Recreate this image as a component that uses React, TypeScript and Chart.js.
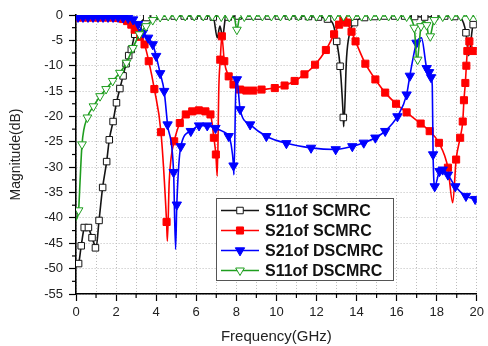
import React, { useEffect, useRef } from 'react';
import { Chart, registerables } from 'chart.js';

Chart.register(...registerables);

type Pt = [number, number];

// ---------- labels ----------
const seriesNames = ['S11of SCMRC', 'S21of SCMRC', 'S21of DSCMRC', 'S11of DSCMRC'];
const xTickLabels = [0, 2, 4, 6, 8, 10, 12, 14, 16, 18, 20];
const yTickLabels = [0, -5, -10, -15, -20, -25, -30, -35, -40, -45, -50, -55];
const xTitle = 'Frequency(GHz)';
const yTitle = 'Magnitude(dB)';

// ---------- S11 of SCMRC (black, hollow squares) ----------
const s11ScmrcMarks: Pt[] = [
  [0.13, -49.0], [0.26, -45.5], [0.41, -41.9], [0.62, -41.9], [0.8, -43.9], [0.97, -45.9],
  [1.15, -40.5], [1.33, -34.0], [1.53, -28.9], [1.66, -24.6], [1.85, -21.0], [2.02, -17.3],
  [2.19, -14.5], [2.35, -12.0], [2.5, -9.6], [2.63, -8.0], [2.76, -6.8], [2.93, -3.8],
  [3.1, -2.2], [3.53, -0.5], [3.9, -0.3], [4.4, -0.2], [4.9, -0.2], [5.4, -0.2], [5.9, -0.2],
  [6.4, -0.2], [6.85, -0.4], [7.6, -0.4], [8.1, -0.2], [8.6, -0.2], [9.1, -0.2], [9.6, -0.2],
  [10.1, -0.2], [10.6, -0.2], [11.1, -0.2], [11.6, -0.3], [12.1, -0.4], [12.55, -0.8],
  [13.01, -5.2], [13.18, -10.1], [13.34, -20.2], [13.9, -1.5], [14.4, -0.5], [14.9, -0.3],
  [15.4, -0.2], [15.9, -0.2], [16.4, -0.2], [16.9, -0.3], [17.4, -0.4], [17.9, -0.3],
  [18.4, -0.2], [18.9, -0.3], [19.46, -3.5], [19.82, -1.9],
];
const s11ScmrcCurve: Pt[] = [
  [0, -49.5], [0.5, -41.4], [0.99, -46.2], [7.05, -4.5], [7.18, -2.2], [7.32, -4.3],
  [7.45, -0.8], [12.85, -2.0], [13.36, -22.0], [13.5, -8.5], [13.66, -3.5], [19.2, -0.6],
  [19.6, -8.0], [20, -1.5],
];

// ---------- S21 of SCMRC (red, filled squares) ----------
const s21ScmrcMarks: Pt[] = [
  [0.1, -0.5], [0.35, -0.5], [0.6, -0.5], [0.85, -0.5], [1.1, -0.5], [1.35, -0.5], [1.6, -0.5],
  [1.85, -0.5], [2.1, -0.6], [2.35, -0.8], [2.55, -1.2], [2.76, -1.9], [2.93, -2.9], [3.2, -4.3],
  [3.42, -5.8], [3.63, -9.1], [3.91, -14.6], [4.24, -23.1], [4.52, -40.8], [4.9, -24.9],
  [5.18, -21.3], [5.48, -19.6], [5.8, -19.0], [6.13, -18.8], [6.46, -19.0], [6.71, -19.6],
  [6.88, -24.2], [6.98, -27.5], [7.2, -8.8], [7.28, -4.2], [7.4, -9.1], [7.62, -12.1],
  [7.86, -13.7], [8.19, -14.7], [8.5, -14.9], [8.85, -14.9], [9.26, -14.7], [9.92, -14.4],
  [10.41, -13.9], [10.91, -13.0], [11.4, -11.7], [11.93, -9.8], [12.47, -6.9], [12.88, -3.8],
  [13.13, -1.9], [13.34, -1.0], [13.52, -1.5], [13.75, -3.3], [13.95, -5.2], [14.44, -9.6],
  [14.94, -12.7], [15.43, -15.3], [15.97, -17.5], [16.5, -19.2], [17.2, -21.4], [17.65, -22.9],
  [18.11, -25.2], [18.56, -30.1], [18.97, -28.5], [19.17, -24.2], [19.3, -21.0], [19.36, -16.8],
  [19.43, -13.4], [19.48, -10.0], [19.53, -7.1], [19.63, -5.2], [19.87, -7.1],
];
const s21ScmrcCurve: Pt[] = [
  [0, -0.5], [4.56, -44.6], [4.65, -33.0], [4.75, -28.0], [7.05, -31.8], [7.13, -14.0],
  [18.8, -37.0], [20, -6.5],
];

// ---------- S21 of DSCMRC (blue, filled down triangles) ----------
const s21DscmrcMarks: Pt[] = [
  [0.1, -0.4], [0.35, -0.4], [0.6, -0.4], [0.85, -0.4], [1.1, -0.4], [1.35, -0.4], [1.6, -0.4],
  [1.85, -0.4], [2.1, -0.4], [2.35, -0.5], [2.6, -0.6], [2.85, -0.9], [3.1, -1.8], [3.34, -3.5],
  [3.6, -4.5], [3.83, -5.8], [4.0, -8.1], [4.2, -11.5], [4.4, -15.0], [4.57, -21.6],
  [4.87, -31.0], [5.03, -37.4], [5.23, -25.9], [5.73, -22.9], [6.14, -21.8], [6.55, -21.8],
  [6.96, -22.3], [7.62, -23.9], [7.86, -29.7], [8.03, -12.7], [8.19, -18.6], [8.69, -21.6],
  [9.5, -23.9], [10.5, -25.3], [11.73, -26.2], [12.96, -26.5], [13.79, -25.9], [14.36, -25.2],
  [14.94, -24.2], [15.43, -22.9], [16.04, -20.0], [16.5, -15.7], [16.66, -12.0], [16.99, -5.5],
  [17.5, -10.5], [17.62, -11.3], [17.72, -12.3], [17.82, -27.5], [17.9, -33.8], [18.14, -30.8],
  [18.3, -30.5], [18.56, -31.5], [18.93, -33.8], [19.46, -35.7], [19.92, -36.3],
];
const s21DscmrcCurve: Pt[] = [
  [0, -0.4], [4.97, -46.2], [7.3, -22.9], [7.74, -25.5], [7.88, -31.5], [7.98, -14.0],
  [17.24, -4.5], [17.78, -14.0], [20, -36.4],
];

// ---------- S11 of DSCMRC (green, hollow down triangles) ----------
const s11DscmrcMarks: Pt[] = [
  [0.13, -38.5], [0.3, -25.5], [0.57, -20.2], [0.87, -18.0], [1.2, -16.0], [1.5, -14.6],
  [1.83, -13.0], [2.19, -11.4], [2.52, -9.4], [2.84, -6.5], [3.17, -3.8], [3.5, -2.2],
  [3.83, -1.0], [4.2, -0.4], [4.6, -0.2], [5.0, -0.2], [5.45, -0.2], [5.9, -0.2], [6.35, -0.2],
  [6.8, -0.2], [7.25, -0.3], [7.65, -0.4], [8.03, -2.9], [8.4, -0.3], [8.85, -0.2], [9.3, -0.2],
  [9.75, -0.2], [10.2, -0.2], [10.65, -0.2], [11.1, -0.2], [11.55, -0.2], [12.0, -0.2],
  [12.45, -0.2], [12.9, -0.2], [13.35, -0.2], [13.8, -0.2], [14.25, -0.2], [14.7, -0.2],
  [15.15, -0.2], [15.6, -0.2], [16.05, -0.2], [16.5, -0.3], [16.88, -2.5], [17.05, -8.8],
  [17.22, -2.2], [17.5, -2.0], [17.68, -4.2], [17.88, -1.0], [18.3, -0.3], [18.75, -0.2],
  [19.2, -0.2], [19.65, -0.2], [20, -0.2],
];
const s11DscmrcCurve: Pt[] = [
  [0, -40.5], [0.2, -33.0], [7.9, -0.6], [8.16, -0.6], [17.02, -9.5], [17.36, -1.3],
  [17.63, -4.6],
];

// ---------- styling ----------
type Style = { color: string; shape: 'rect' | 'triangle'; fill: string; radius: number };
const seriesStyles: Style[] = [
  { color: '#141414', shape: 'rect', fill: '#ffffff', radius: 4.6 },
  { color: '#ff0000', shape: 'rect', fill: '#ff0000', radius: 5 },
  { color: '#0000ff', shape: 'triangle', fill: '#0000ff', radius: 5.4 },
  { color: '#1f9e1f', shape: 'triangle', fill: '#ffffff', radius: 5 },
];

const FONT = '"Liberation Sans", Arial, Helvetica, sans-serif';

function buildCurve(marks: Pt[], extra: Pt[]) {
  const all = [...marks, ...extra].sort((a, b) => a[0] - b[0]);
  const out: { x: number; y: number }[] = [];
  for (const p of all) {
    if (!out.length || p[0] > out[out.length - 1].x) out.push({ x: p[0], y: p[1] });
  }
  return out;
}
const toXY = (pts: Pt[]) => pts.map(([x, y]) => ({ x, y }));

function drawMarker(ctx: CanvasRenderingContext2D, s: Style, x: number, y: number) {
  ctx.beginPath();
  if (s.shape === 'rect') {
    const h = s.radius * Math.SQRT1_2;
    ctx.rect(x - h, y - h, 2 * h, 2 * h);
  } else {
    const r = s.radius;
    ctx.moveTo(x, y + r);
    ctx.lineTo(x - r * 0.866, y - r / 2);
    ctx.lineTo(x + r * 0.866, y - r / 2);
    ctx.closePath();
  }
  ctx.fillStyle = s.fill;
  ctx.fill();
  ctx.strokeStyle = s.color;
  ctx.lineWidth = 1;
  ctx.stroke();
}

const minorTicksPlugin = {
  id: 'minorTicks',
  afterDraw(chart: any) {
    const { ctx, scales } = chart;
    const x = scales.x;
    const y = scales.y;
    ctx.save();
    ctx.strokeStyle = '#000';
    ctx.lineWidth = 1.2;
    for (let i = 0; i < xTickLabels.length - 1; i++) {
      const v = (xTickLabels[i] + xTickLabels[i + 1]) / 2;
      const px = x.getPixelForValue(v);
      ctx.beginPath();
      ctx.moveTo(px, x.top);
      ctx.lineTo(px, x.top + 4);
      ctx.stroke();
    }
    for (let i = 0; i < yTickLabels.length - 1; i++) {
      const v = (yTickLabels[i] + yTickLabels[i + 1]) / 2;
      const py = y.getPixelForValue(v);
      ctx.beginPath();
      ctx.moveTo(y.right, py);
      ctx.lineTo(y.right - 4, py);
      ctx.stroke();
    }
    ctx.restore();
  },
};

const boxLegendPlugin = {
  id: 'boxLegend',
  afterDraw(chart: any) {
    const ctx: CanvasRenderingContext2D = chart.ctx;
    const left = 216;
    const top = 198;
    const w = 177;
    const h = 82;
    ctx.save();
    ctx.fillStyle = '#ffffff';
    ctx.fillRect(left, top, w, h);
    ctx.strokeStyle = '#555';
    ctx.lineWidth = 1;
    ctx.strokeRect(left + 0.5, top + 0.5, w, h);
    seriesNames.forEach((name, i) => {
      const s = seriesStyles[i];
      const cy = top + 12.5 + i * 20;
      ctx.beginPath();
      ctx.moveTo(left + 5, cy);
      ctx.lineTo(left + 43, cy);
      ctx.strokeStyle = s.color;
      ctx.lineWidth = 1.6;
      ctx.stroke();
      drawMarker(ctx, s, left + 24, cy);
      ctx.fillStyle = '#111';
      ctx.font = `bold 16px ${FONT}`;
      ctx.textBaseline = 'middle';
      ctx.textAlign = 'left';
      ctx.fillText(name, left + 49, cy + 1);
    });
    ctx.restore();
  },
};

export default function App() {
  const ref = useRef<HTMLCanvasElement | null>(null);

  useEffect(() => {
    if (!ref.current) return;
    const marks = [s11ScmrcMarks, s21ScmrcMarks, s21DscmrcMarks, s11DscmrcMarks];
    const curves = [s11ScmrcCurve, s21ScmrcCurve, s21DscmrcCurve, s11DscmrcCurve];
    // draw order: green on top, then blue, red, black
    const baseOrder = [6, 4, 2, 0];
    const datasets: any[] = [];
    seriesNames.forEach((name, i) => {
      const s = seriesStyles[i];
      datasets.push({
        label: name,
        data: buildCurve(marks[i], curves[i]),
        borderColor: s.color,
        borderWidth: 1.6,
        pointRadius: 0,
        pointHoverRadius: 0,
        fill: false,
        cubicInterpolationMode: 'monotone',
        order: baseOrder[i] + 1,
      });
      datasets.push({
        label: name + ' markers',
        data: toXY(marks[i]),
        showLine: false,
        pointStyle: s.shape,
        pointRotation: s.shape === 'triangle' ? 180 : 0,
        pointRadius: s.radius,
        pointBackgroundColor: s.fill,
        pointBorderColor: s.color,
        pointBorderWidth: 1,
        order: baseOrder[i],
      });
    });

    const chart = new Chart(ref.current, {
      type: 'line',
      data: { datasets },
      plugins: [minorTicksPlugin, boxLegendPlugin],
      options: {
        animation: false,
        responsive: false,
        devicePixelRatio: 1,
        layout: { padding: { left: 0, right: 7, top: 15, bottom: 0 } },
        plugins: { legend: { display: false }, tooltip: { enabled: false } },
        scales: {
          x: {
            type: 'linear',
            min: 0,
            max: 20,
            afterFit: (scale: any) => {
              scale.height = 52;
            },
            ticks: {
              stepSize: 1,
              autoSkip: false,
              maxRotation: 0,
              padding: 4,
              color: '#222',
              font: { family: FONT, size: 13 },
              callback: (v: any) => (xTickLabels.includes(Number(v)) ? String(v) : ''),
            },
            grid: {
              color: '#bdbdbd',
              lineWidth: 1,
              drawTicks: true,
              tickLength: 7,
              tickWidth: 1.2,
              tickBorderDash: [],
              tickColor: (c: any) =>
                c.tick && xTickLabels.includes(c.tick.value) ? '#000' : 'rgba(0,0,0,0)',
            },
            border: { display: true, color: '#000', width: 1.6, dash: [1, 2] },
            title: {
              display: true,
              text: xTitle,
              color: '#222',
              font: { family: FONT, size: 15 },
              padding: { top: 0, bottom: 0 },
            },
          },
          y: {
            type: 'linear',
            min: -55,
            max: 0,
            afterFit: (scale: any) => {
              scale.width = 76;
            },
            ticks: {
              stepSize: 2.5,
              autoSkip: false,
              padding: 6,
              color: '#222',
              font: { family: FONT, size: 13 },
              callback: (v: any) => (yTickLabels.includes(Number(v)) ? String(v) : ''),
            },
            grid: {
              color: (c: any) =>
                c.tick && yTickLabels.includes(c.tick.value) ? '#bdbdbd' : 'rgba(0,0,0,0)',
              lineWidth: 1,
              drawTicks: true,
              tickLength: 7,
              tickWidth: 1.2,
              tickBorderDash: [],
              tickColor: (c: any) =>
                c.tick && yTickLabels.includes(c.tick.value) ? '#000' : 'rgba(0,0,0,0)',
            },
            border: { display: true, color: '#000', width: 1.6, dash: [1, 2] },
            title: {
              display: true,
              text: yTitle,
              color: '#222',
              font: { family: FONT, size: 14 },
              padding: { top: 8, bottom: 0 },
            },
          },
        },
      },
    });
    return () => chart.destroy();
  }, []);

  return (
    <div style={{ position: 'fixed', left: 0, top: 0, width: 488, height: 346, background: '#fff' }}>
      <canvas ref={ref} width={488} height={346} />
    </div>
  );
}
